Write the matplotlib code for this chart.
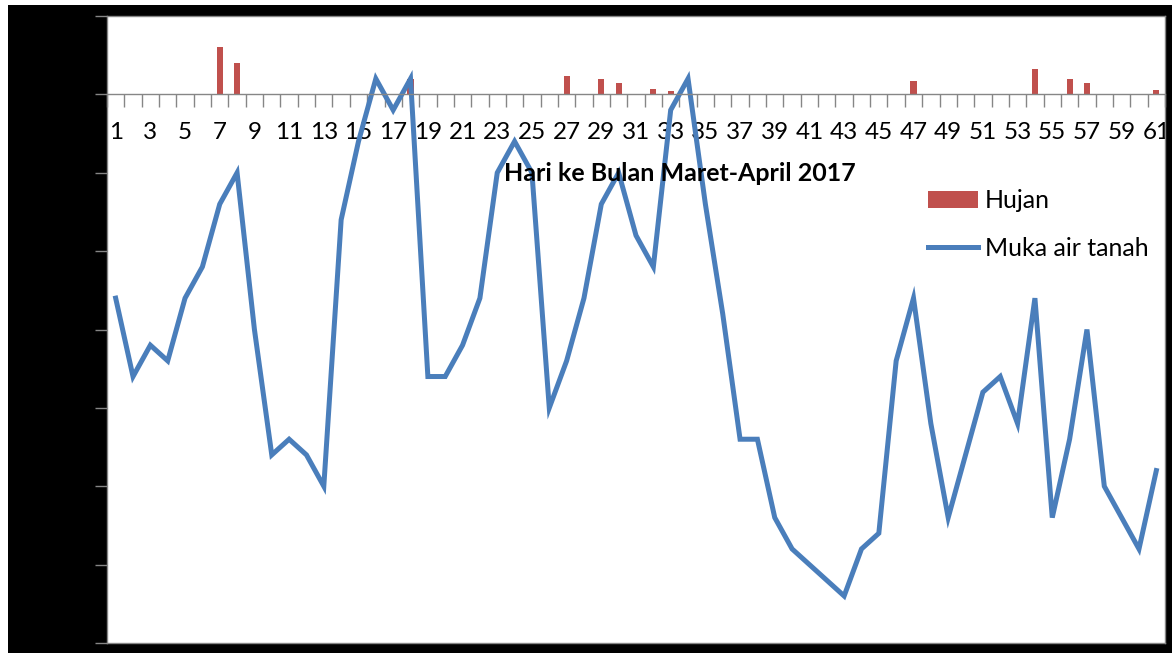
import numpy as np
import matplotlib
matplotlib.use("Agg")
import matplotlib.pyplot as plt
from matplotlib.patches import Rectangle
from matplotlib.lines import Line2D

plt.rcParams['font.family'] = ['Lato', 'DejaVu Sans']

# day of observation (1 = first day of March 2017)
days = np.arange(1, 62)

# groundwater level, cm relative to reference point
muka_air = [-26, -36, -32, -34, -26, -22, -14, -10, -30, -46,
            -44, -46, -50, -16, -6, 2, -2, 2, -36, -36,
            -32, -26, -10, -6, -10, -40, -34, -26, -14, -10,
            -18, -22, -2, 2, -14, -28, -44, -44, -54, -58,
            -60, -62, -64, -58, -56, -34, -26, -42, -54, -46,
            -38, -36, -42, -26, -54, -44, -30, -50, -54, -58,
            -48]

# daily rainfall on rainy days only
hujan_hari = [7, 8, 18, 27, 29, 30, 32, 33, 47, 54, 56, 57, 61]
hujan_nilai = [6.0, 4.0, 2.0, 2.3, 2.0, 1.5, 0.7, 0.4, 1.7, 3.2, 2.0, 1.4, 0.6]

hujan = np.zeros(len(days))
for d, v in zip(hujan_hari, hujan_nilai):
    hujan[d - 1] = v

tick_labels = [str(d) for d in days[::2]]

grey = '#868686'

fig = plt.figure(figsize=(11.72, 6.53), dpi=100, facecolor='white')
fig.patches.append(Rectangle((8 / 1172, 0), 1, (653 - 5) / 653,
                             transform=fig.transFigure, facecolor='black',
                             edgecolor='none', zorder=-10))

ax = fig.add_axes([107 / 1172, 10 / 653, 1058 / 1172, 627 / 653])
ax.set_facecolor('white')

bars = ax.bar(days, hujan, width=0.35, color='#C0504D', label='Hujan',
              zorder=2)
line, = ax.plot(days, muka_air, color='#4A7EBB', lw=3.6,
                label='Muka air tanah', solid_joinstyle='miter', zorder=2.2)

ax.set_xlim(0.5, 61.5)
ax.set_ylim(-70, 10)

# y axis: ticks every 10 pointing outward, labels in black
ax.set_yticks(np.arange(-70, 11, 10))
ax.tick_params(axis='y', colors=grey, length=9, width=1, labelcolor='black',
               labelsize=16)

# x axis sits on the zero line, ticks between days, labels on odd days
ax.spines['bottom'].set_position(('data', 0))
ax.set_xticks(np.arange(0.5, 62, 1))
ax.set_xticks(days[::2], minor=True)
ax.set_xticklabels([], minor=False)
ax.set_xticklabels(tick_labels, minor=True)
ax.tick_params(axis='x', which='major', colors=grey, length=9, width=1,
               direction='out')
ax.tick_params(axis='x', which='minor', length=0, pad=20, labelsize=17.5,
               labelcolor='black')

for side in ['left', 'bottom', 'top', 'right']:
    ax.spines[side].set_color(grey)
    ax.spines[side].set_linewidth(1)
ax.add_line(Line2D([0, 1], [0, 0], transform=ax.transAxes, color=grey,
                   lw=1, clip_on=False))

ax.text(0.5416, 0.7496, 'Hari ke Bulan Maret-April 2017', transform=ax.transAxes,
        fontsize=18, fontweight='bold', ha='center', va='center', zorder=5)

ax.legend([bars, line], ['Hujan', 'Muka air tanah'], loc='upper left',
          bbox_to_anchor=(821 / 1058, 1 - 173 / 627),
          frameon=False, fontsize=18, handlelength=2.0, handletextpad=0.28,
          labelspacing=0.98, borderpad=0, borderaxespad=0)

fig.savefig('out.png', dpi=100, facecolor=fig.get_facecolor())
